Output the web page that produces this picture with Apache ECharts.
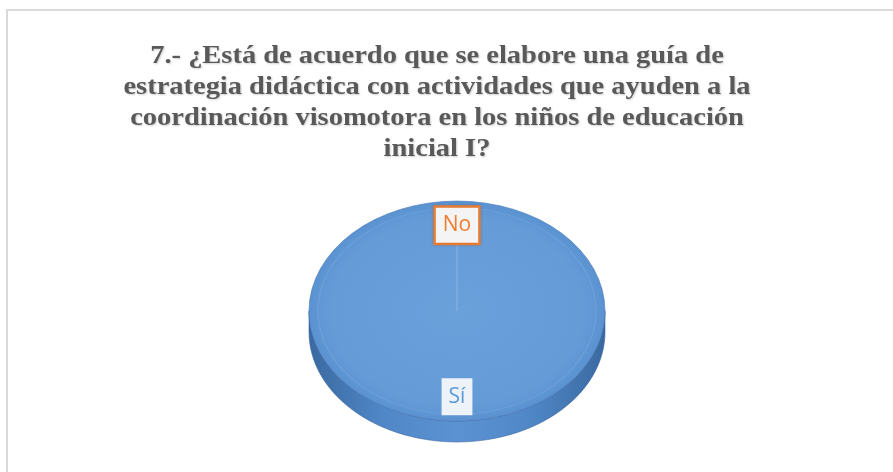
<!DOCTYPE html>
<html>
<head>
<meta charset="utf-8">
<title>Pregunta 7</title>
<script src="https://cdn.jsdelivr.net/npm/echarts@6/dist/echarts.min.js"></script>
<style>
  html, body { margin: 0; padding: 0; background: #fff; }
  #main { width: 893px; height: 472px; }
</style>
</head>
<body>
<div id="main"></div>
<script>
// datos del gráfico
var categorias = ['Sí', 'No'];
var valores = [100, 0];
var colores = ['#5b9bd5', '#ed7d31'];
var tituloLineas = [
    '7.- ¿Está de acuerdo que se elabore una guía de',
    'estrategia didáctica con actividades que ayuden a la',
    'coordinación visomotora en los niños de educación',
    'inicial I?'
];

var total = valores.reduce(function (a, b) { return a + b; }, 0);

// parte del arco que queda al frente (entre 0 y PI) para dibujar el costado
function arcoFrontal(a0, a1) {
    var partes = [];
    for (var n = -1; n <= 1; n++) {
        var s = Math.max(a0, n * 2 * Math.PI);
        var e = Math.min(a1, n * 2 * Math.PI + Math.PI);
        if (e > s) partes.push([s, e]);
    }
    return partes;
}

var myChart = echarts.init(document.getElementById('main'));

var option = {
    backgroundColor: '#ffffff',
    animation: false,
    graphic: [{
        type: 'rect',
        silent: true,
        shape: { x: 7, y: 10, width: 900, height: 480 },
        style: { fill: 'none', stroke: '#d9d9d9', lineWidth: 2 }
    }, {
        // título (algo ensanchado como en el original)
        type: 'text',
        silent: true,
        x: 437,
        y: 41,
        scaleX: 1.095,
        style: {
            text: tituloLineas.join('\n'),
            align: 'center',
            verticalAlign: 'top',
            fontFamily: '"Liberation Serif", "Times New Roman", serif',
            fontWeight: 'bold',
            fontSize: 26,
            lineHeight: 31,
            fill: '#595959',
            textShadowColor: 'rgba(0,0,0,0.2)',
            textShadowBlur: 2,
            textShadowOffsetX: 1,
            textShadowOffsetY: 1
        }
    }],
    series: [{
        type: 'custom',
        coordinateSystem: 'none',
        data: valores.map(function (v, i) {
            return { name: categorias[i], value: [v] };
        }),
        renderItem: function (params, api) {
            var i = params.dataIndex;
            var v = api.value(0);
            var cx = 457, cy = 311, r = 148, k = 0.743, prof = 21;
            var antes = 0;
            for (var j = 0; j < i; j++) antes += valores[j];
            var a0 = -Math.PI / 2 + 2 * Math.PI * antes / total;
            var a1 = a0 + 2 * Math.PI * v / total;
            var hijos = [];

            if (v > 0) {
                // costado (profundidad 3D)
                arcoFrontal(a0, a1).forEach(function (p) {
                    var pts = [];
                    var pasos = 60;
                    for (var s = 0; s <= pasos; s++) {
                        var t = p[0] + (p[1] - p[0]) * s / pasos;
                        pts.push([cx + r * Math.cos(t), cy + r * k * Math.sin(t)]);
                    }
                    for (var s2 = pasos; s2 >= 0; s2--) {
                        var t2 = p[0] + (p[1] - p[0]) * s2 / pasos;
                        pts.push([cx + r * Math.cos(t2), cy + r * k * Math.sin(t2) + prof]);
                    }
                    hijos.push({
                        type: 'polygon',
                        z2: 1,
                        shape: { points: pts },
                        style: {
                            fill: new echarts.graphic.LinearGradient(0, 0, 1, 0, [
                                { offset: 0, color: '#3a69a0' },
                                { offset: 0.25, color: '#4f87c7' },
                                { offset: 0.5, color: '#5b93d2' },
                                { offset: 0.75, color: '#4f87c7' },
                                { offset: 1, color: '#3a69a0' }
                            ]),
                            stroke: 'rgba(60,100,160,0.6)',
                            lineWidth: 1
                        }
                    });
                });
                // cara superior
                hijos.push({
                    type: 'sector',
                    z2: 5,
                    x: cx, y: cy, scaleY: k,
                    shape: { cx: 0, cy: 0, r0: 0, r: r, startAngle: a0, endAngle: a1, clockwise: true },
                    style: {
                        fill: new echarts.graphic.RadialGradient(0.5, 0.5, 0.5, [
                            { offset: 0, color: '#6aa1db' },
                            { offset: 0.85, color: '#659cd8' },
                            { offset: 1, color: '#5a92d1' }
                        ]),
                        stroke: 'rgba(70,120,185,0.7)',
                        lineWidth: 1
                    }
                });
                // bisel interior
                hijos.push({
                    type: 'arc',
                    z2: 6,
                    silent: true,
                    x: cx, y: cy, scaleY: k,
                    shape: { cx: 0, cy: 0, r: r - 9, startAngle: a0, endAngle: a1, clockwise: true },
                    style: { fill: null, stroke: 'rgba(255,255,255,0.08)', lineWidth: 1.5 }
                });
            }
            // borde de la porción
            hijos.push({
                type: 'line',
                z2: 7,
                silent: true,
                shape: {
                    x1: cx, y1: cy,
                    x2: cx + (r - 6) * Math.cos(a0), y2: cy + (r - 6) * k * Math.sin(a0)
                },
                style: { stroke: 'rgba(150,185,225,0.45)', lineWidth: 1 }
            });
            // etiqueta
            var am = (a0 + a1) / 2;
            var lr = 0.78 * r;
            var esNo = i === 1;
            hijos.push({
                type: 'text',
                z2: 20,
                x: cx + lr * Math.cos(am),
                y: cy + lr * k * Math.sin(am),
                style: {
                    text: categorias[i],
                    align: 'center',
                    verticalAlign: 'middle',
                    fontFamily: '"Open Sans", "Noto Sans", sans-serif',
                    fontSize: 21,
                    fill: colores[i],
                    backgroundColor: esNo ? '#f4f4f4' : '#eef3fa',
                    borderColor: esNo ? colores[i] : 'rgba(0,0,0,0)',
                    borderWidth: esNo ? 2.5 : 0,
                    padding: esNo ? [7, 7, 7, 7] : [8, 7, 8, 7],
                    shadowColor: esNo ? 'rgba(0,0,0,0.2)' : 'rgba(0,0,0,0)',
                    shadowBlur: esNo ? 3 : 0
                }
            });
            return { type: 'group', children: hijos };
        }
    }]
};

myChart.setOption(option);
</script>
</body>
</html>
